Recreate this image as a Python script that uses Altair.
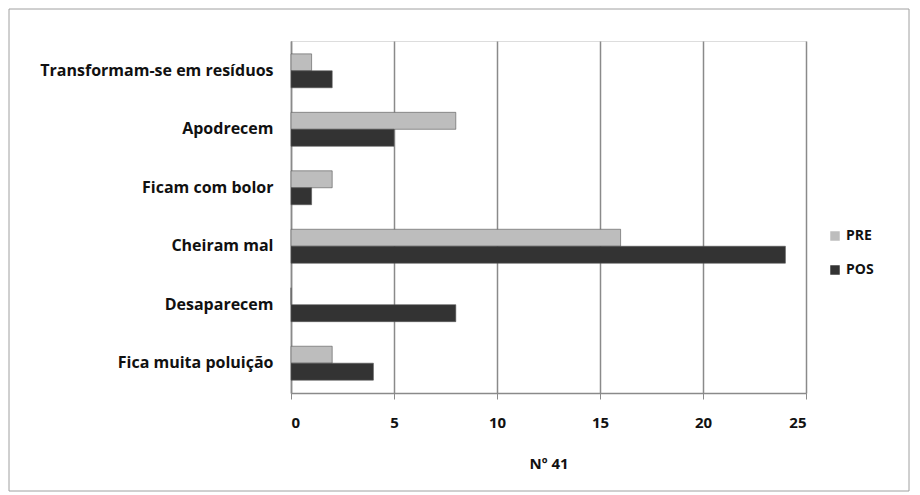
import altair as alt
import pandas as pd

categories = ["Transformam-se em resíduos", "Apodrecem", "Ficam com bolor",
              "Cheiram mal", "Desaparecem", "Fica muita poluição"]
pre_values = [1, 8, 2, 16, 0, 2]
pos_values = [2, 5, 1, 24, 8, 4]
series = ["PRE", "POS"]
colors = ["#bdbdbd", "#333333"]

rows = []
for c, a, b in zip(categories, pre_values, pos_values):
    rows.append({"cat": c, "serie": "PRE", "val": a})
    rows.append({"cat": c, "serie": "POS", "val": b})
df = pd.DataFrame(rows)

W, H = 515, 352
FONT = "Open Sans"

bars = alt.Chart(df).mark_bar(stroke="#555555", strokeWidth=0.6).encode(
    y=alt.Y("cat:N", sort=categories,
            scale=alt.Scale(paddingInner=0.42, paddingOuter=0.22),
            axis=alt.Axis(title=None, labelFont=FONT, labelFontWeight="bold",
                          labelFontSize=16, labelColor="#111111", labelPadding=18,
                          labelLimit=300,
                          ticks=False, domain=True, domainColor="#8a8a8a",
                          domainWidth=1.5)),
    yOffset=alt.YOffset("serie:N", sort=series),
    x=alt.X("val:Q", scale=alt.Scale(domain=[0, 25]),
            axis=alt.Axis(values=[0, 5, 10, 15, 20, 25], title="Nº 41",
                          titleFont=FONT, titleFontWeight="bold", titleFontSize=15,
                          titleColor="#111111", titlePadding=26,
                          labelFont=FONT, labelFontWeight="bold", labelFontSize=15,
                          labelColor="#111111", labelPadding=16,
                          grid=True, gridColor="#8a8a8a", gridWidth=1.5,
                          domainColor="#8a8a8a", domainWidth=1.5,
                          tickColor="#8a8a8a", tickSize=6)),
    color=alt.Color("serie:N", sort=series,
                    scale=alt.Scale(domain=series, range=colors),
                    legend=alt.Legend(title=None, orient="none", legendX=537,
                                      legendY=188, labelFont=FONT, labelFontSize=14,
                                      labelFontWeight="bold", labelColor="#111111",
                                      symbolType="square", symbolSize=90,
                                      rowPadding=20, symbolStrokeWidth=0)),
)

border = alt.Chart(pd.DataFrame({"a": [0]})).mark_rect(
    fill=None, stroke="#a0a0a0", strokeWidth=1
).encode(x=alt.value(-282), x2=alt.value(618), y=alt.value(-32), y2=alt.value(H + 98))

chart = alt.layer(border, bars).properties(
    width=W, height=H, padding=0
).configure_view(stroke=None).configure(background="white")

chart.save("out.html", embed_options={"renderer": "svg", "actions": False})
